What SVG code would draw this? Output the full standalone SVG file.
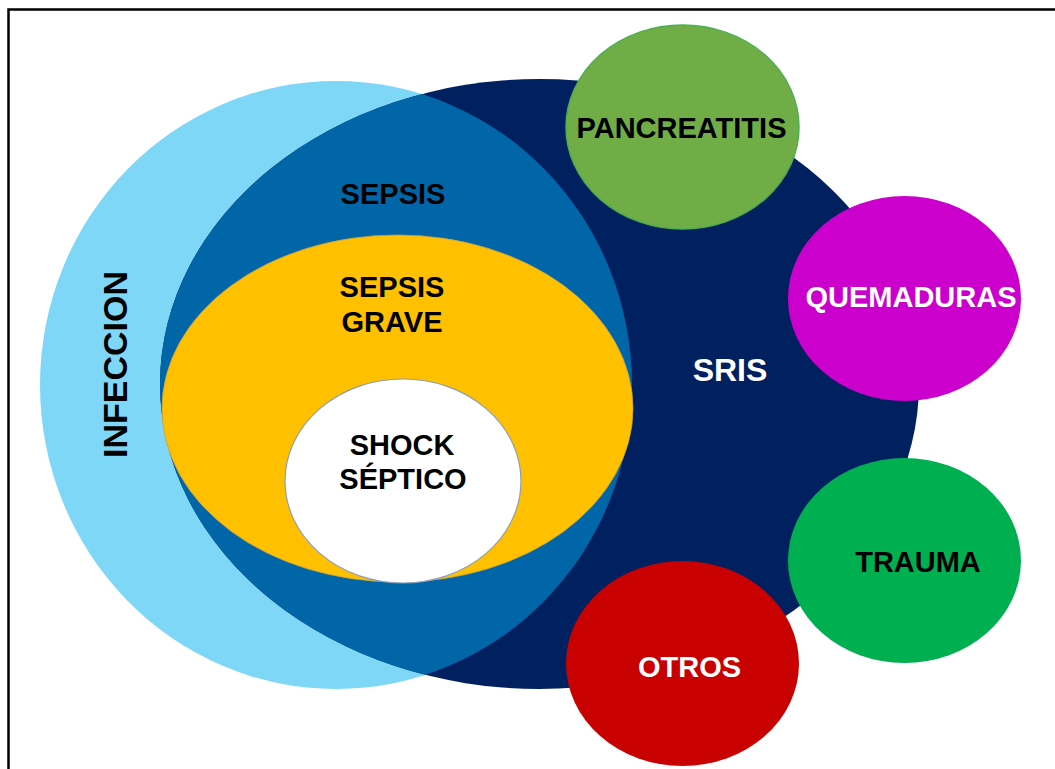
<svg xmlns="http://www.w3.org/2000/svg" width="1055" height="769" viewBox="0 0 1055 769">
  <style>
    .lbl { font-family: "Liberation Sans", Arial, sans-serif; font-weight: bold; text-anchor: middle; }
    .dark { fill: #000000; }
    .light { fill: #ffffff; }
  </style>
  <defs>
    <clipPath id="infeccionClip">
      <ellipse cx="336" cy="385" rx="296" ry="304"/>
    </clipPath>
  </defs>

  <rect x="0" y="0" width="1055" height="769" fill="#ffffff"/>
  <!-- frame (runs off the right and bottom edges) -->
  <rect x="8.5" y="9.5" width="1070" height="790" fill="none" stroke="#000000" stroke-width="2.5"/>

  <g id="infeccion">
    <ellipse cx="336" cy="385" rx="296" ry="304" fill="#7FD7F7"/>
    <text class="lbl dark" font-size="34" transform="translate(127 364.5) rotate(-90)" x="0" y="0">INFECCION</text>
  </g>

  <g id="sris">
    <ellipse cx="539.5" cy="384" rx="379.5" ry="305" fill="#002060"/>
    <text class="lbl light" font-size="32" x="730" y="381">SRIS</text>
  </g>

  <g id="sepsis">
    <ellipse cx="539.5" cy="384" rx="379.5" ry="305" fill="#0066A8" clip-path="url(#infeccionClip)"/>
    <text class="lbl dark" font-size="29" x="393" y="204">SEPSIS</text>
  </g>

  <g id="sepsis-grave">
    <ellipse cx="397.5" cy="408.5" rx="235.5" ry="173.5" fill="#FFC000" stroke="#C9A24A" stroke-width="0.8"/>
    <text class="lbl dark" font-size="29" x="392" y="297">SEPSIS</text>
    <text class="lbl dark" font-size="29" x="392" y="332">GRAVE</text>
  </g>

  <g id="shock-septico">
    <ellipse cx="403" cy="481" rx="118" ry="102" fill="#ffffff" stroke="#8E9FB3" stroke-width="1.2"/>
    <text class="lbl dark" font-size="29" x="402" y="455">SHOCK</text>
    <text class="lbl dark" font-size="29" x="403" y="489">SÉPTICO</text>
  </g>

  <g id="pancreatitis">
    <ellipse cx="682.5" cy="127" rx="116.5" ry="102" fill="#70AD47" stroke="#4CB050" stroke-width="1.5"/>
    <text class="lbl dark" font-size="29" x="681.5" y="138">PANCREATITIS</text>
  </g>

  <g id="quemaduras">
    <ellipse cx="904.5" cy="298.5" rx="116.5" ry="102.5" fill="#CC00CC"/>
    <text class="lbl light" font-size="29" x="911" y="307">QUEMADURAS</text>
  </g>

  <g id="trauma">
    <ellipse cx="904.5" cy="560.5" rx="116.5" ry="102.5" fill="#00B050"/>
    <text class="lbl dark" font-size="29" x="918" y="572">TRAUMA</text>
  </g>

  <g id="otros">
    <ellipse cx="682.5" cy="663.5" rx="116.5" ry="102.5" fill="#C80000"/>
    <text class="lbl light" font-size="29" x="689.5" y="677">OTROS</text>
  </g>

  <g id="connectors"/>
</svg>
